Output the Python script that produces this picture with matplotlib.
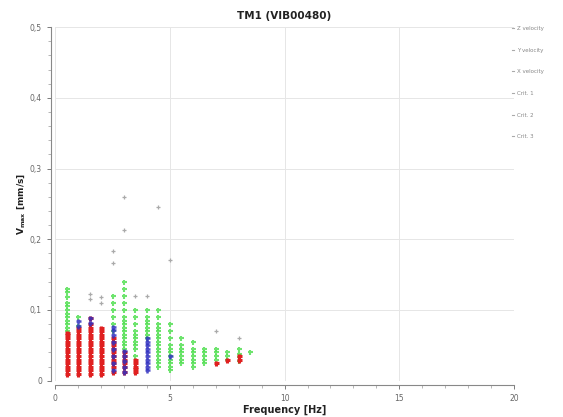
import numpy as np
import matplotlib
matplotlib.use('agg')
import matplotlib.pyplot as plt
from matplotlib.ticker import MultipleLocator, FuncFormatter
from matplotlib.lines import Line2D

# frequency columns (Hz) and velocity values (mm/s)
z_freq = [0.5, 1.0, 1.5, 2.0, 2.5, 3.0, 3.5, 7.0, 7.5, 8.0]
z_vals = [
    [0.01, 0.015, 0.02, 0.025, 0.03, 0.035, 0.04, 0.045, 0.05, 0.055, 0.06, 0.065, 0.068],
    [0.01, 0.015, 0.02, 0.025, 0.03, 0.035, 0.04, 0.045, 0.05, 0.055, 0.06, 0.065, 0.07, 0.074],
    [0.01, 0.015, 0.02, 0.025, 0.03, 0.035, 0.04, 0.045, 0.05, 0.055, 0.06, 0.065, 0.07, 0.075, 0.08, 0.088],
    [0.01, 0.015, 0.02, 0.025, 0.03, 0.035, 0.04, 0.045, 0.05, 0.055, 0.06, 0.065, 0.07, 0.075],
    [0.012, 0.02, 0.025, 0.03, 0.035, 0.04, 0.045, 0.05, 0.055, 0.06],
    [0.012, 0.02, 0.025, 0.03, 0.035, 0.04],
    [0.012, 0.016, 0.02, 0.025, 0.03],
    [0.025],
    [0.03],
    [0.03, 0.035],
]

y_freq = [1.0, 1.5, 2.5, 3.0, 4.0, 5.0]
y_vals = [
    [0.078, 0.084],
    [0.082, 0.088],
    [0.015, 0.025, 0.035, 0.045, 0.055, 0.065, 0.072, 0.076],
    [0.012, 0.02, 0.028, 0.035, 0.042],
    [0.015, 0.02, 0.025, 0.03, 0.035, 0.04, 0.045, 0.05, 0.055, 0.06],
    [0.035],
]

x_freq = [0.5, 1.0, 2.5, 3.0, 3.5, 4.0, 4.5, 5.0, 5.5, 6.0, 6.5, 7.0, 7.5, 8.0, 8.5]
x_vals = [
    [0.07, 0.075, 0.08, 0.085, 0.09, 0.095, 0.1, 0.105, 0.11, 0.118, 0.125, 0.13],
    [0.078, 0.09],
    [0.07, 0.08, 0.09, 0.1, 0.11, 0.12],
    [0.045, 0.05, 0.055, 0.06, 0.065, 0.07, 0.075, 0.08, 0.085, 0.09, 0.1, 0.11, 0.12, 0.13, 0.14],
    [0.035, 0.045, 0.05, 0.055, 0.06, 0.065, 0.07, 0.08, 0.09, 0.1],
    [0.06, 0.065, 0.07, 0.075, 0.08, 0.085, 0.09, 0.1],
    [0.02, 0.025, 0.03, 0.035, 0.04, 0.045, 0.05, 0.055, 0.06, 0.065, 0.07, 0.075, 0.08, 0.09, 0.1],
    [0.015, 0.02, 0.025, 0.03, 0.035, 0.04, 0.045, 0.05, 0.06, 0.07, 0.08],
    [0.025, 0.03, 0.035, 0.04, 0.045, 0.05, 0.06],
    [0.02, 0.025, 0.03, 0.035, 0.04, 0.045, 0.055],
    [0.025, 0.03, 0.035, 0.04, 0.045],
    [0.03, 0.035, 0.04, 0.045],
    [0.03, 0.035, 0.04],
    [0.028, 0.033, 0.038, 0.045],
    [0.04],
]

# faint outliers above the columns
o_freq = [1.5, 1.5, 2.0, 2.0, 2.5, 2.5, 3.0, 3.0, 3.5, 4.0, 4.5, 5.0, 7.0, 8.0]
o_vals = [0.115, 0.122, 0.11, 0.118, 0.166, 0.183, 0.213, 0.26, 0.12, 0.12, 0.246, 0.17, 0.07, 0.06]

legend_labels = ['Z velocity', 'Y velocity', 'X velocity', 'Crit. 1', 'Crit. 2', 'Crit. 3']


def flatten(freqs, vals):
    fx, fy = [], []
    for f, vs in zip(freqs, vals):
        fx += [f] * len(vs)
        fy += vs
    return fx, fy


fig = plt.figure(figsize=(5.63, 4.17), dpi=100)
ax = fig.add_axes([0.098, 0.087, 0.815, 0.848])

ms = 3.6
fx, fy = flatten(x_freq, x_vals)
ax.plot(fx, fy, '+', color='#55e055', ms=ms, mew=1.5, alpha=0.85)
fx, fy = flatten(z_freq, z_vals)
ax.plot(fx, fy, '+', color='#e02020', ms=ms, mew=2.2)
fx, fy = flatten(y_freq, y_vals)
ax.plot(fx, fy, '+', color='#3030c0', ms=ms, mew=1.8, alpha=0.85)
ax.plot(o_freq, o_vals, '+', color='#aaaaaa', ms=3.2, mew=0.9)

ax.set_xlim(0, 20)
ax.set_ylim(0, 0.5)
ax.xaxis.set_major_locator(MultipleLocator(5))
ax.xaxis.set_minor_locator(MultipleLocator(1))
ax.yaxis.set_major_locator(MultipleLocator(0.1))
ax.yaxis.set_minor_locator(MultipleLocator(0.02))
ax.yaxis.set_major_formatter(FuncFormatter(lambda v, p: '0' if v == 0 else ('%.1f' % v).replace('.', ',')))
ax.tick_params(labelsize=5.5, colors='#666666', length=3, width=0.6)
ax.tick_params(which='minor', length=2, width=0.5, colors='#999999')
ax.grid(True, color='#e6e6e6', lw=0.7)
ax.set_axisbelow(True)
for s in ['top', 'right']:
    ax.spines[s].set_visible(False)
for s in ['left', 'bottom']:
    ax.spines[s].set_color('#888888')
    ax.spines[s].set_linewidth(0.8)
    ax.spines[s].set_position(('outward', 3))

ax.set_title('TM1 (VIB00480)', fontsize=7.5, fontweight='bold', color='#222222', pad=6)
ax.set_xlabel('Frequency [Hz]', fontsize=7, fontweight='bold', color='#222222', labelpad=1)
ax.set_ylabel('V$_{\\mathbf{max}}$ [mm/s]', fontsize=6.5, fontweight='bold', color='#222222', labelpad=2)

handles = [Line2D([], [], color='#aaaaaa', lw=0.8) for _ in legend_labels]
leg = fig.legend(handles, legend_labels, loc='upper left', bbox_to_anchor=(0.9, 0.95),
                 frameon=False, fontsize=4, handlelength=0.5, handletextpad=0.5,
                 labelspacing=3.0, labelcolor='#888888')

plt.savefig('out.png', dpi=100)
